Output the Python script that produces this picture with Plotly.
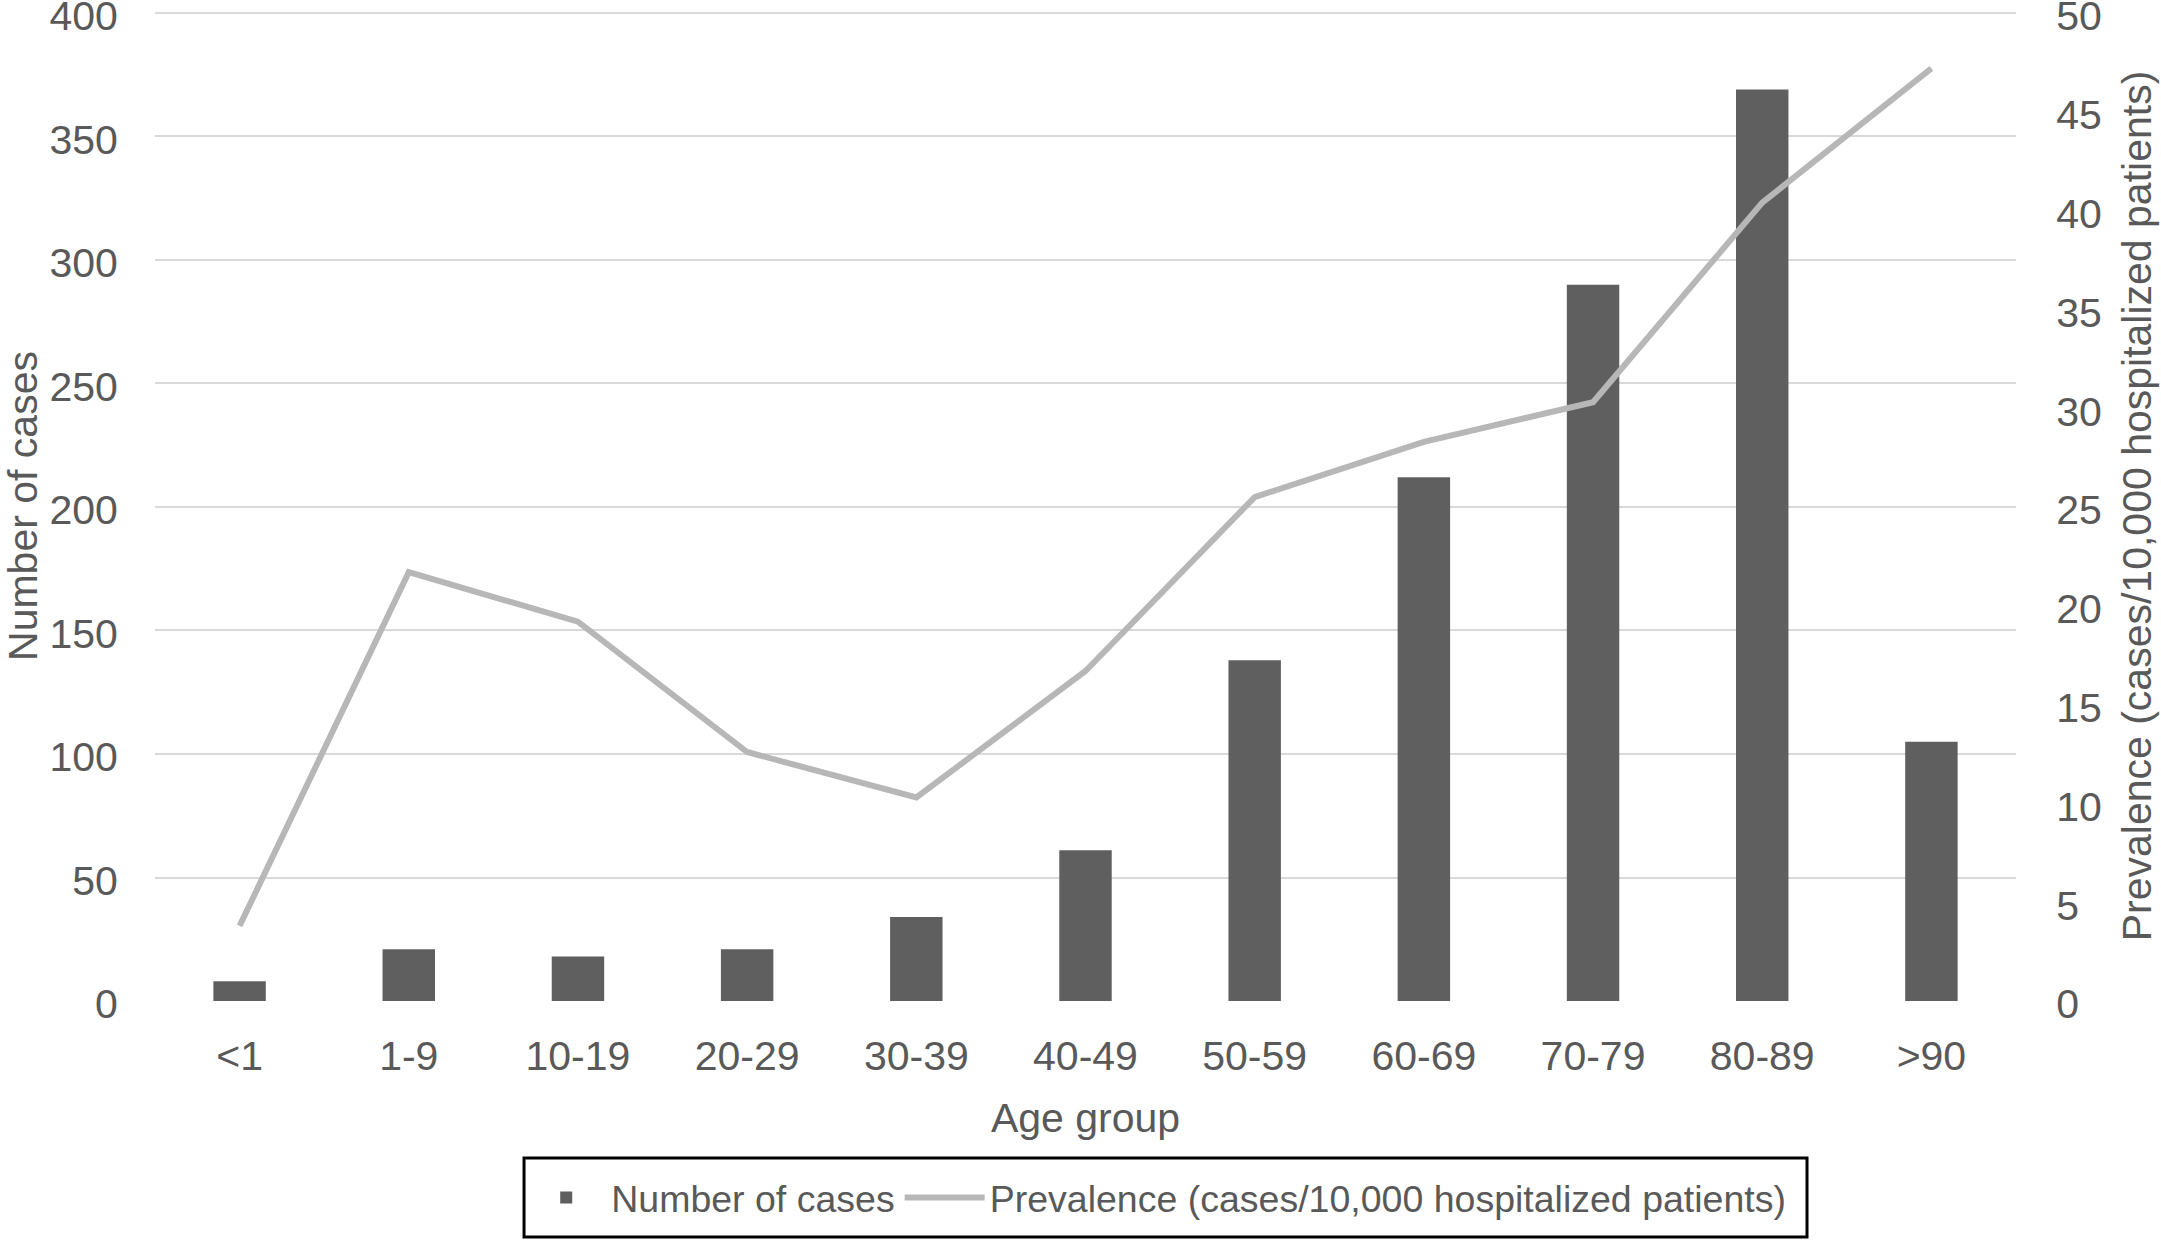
import plotly.graph_objects as go

age_groups = ["<1", "1-9", "10-19", "20-29", "30-39", "40-49", "50-59", "60-69", "70-79", "80-89", ">90"]
num_cases = [8, 21, 18, 21, 34, 61, 138, 212, 290, 369, 105]
prevalence = [3.8, 21.7, 19.2, 12.6, 10.3, 16.7, 25.5, 28.3, 30.3, 40.4, 47.2]

left_ticks = [0, 50, 100, 150, 200, 250, 300, 350, 400]
right_ticks = [0, 5, 10, 15, 20, 25, 30, 35, 40, 45, 50]

FONT = "Liberation Sans, Arial, sans-serif"
TXT = "#595959"

fig = go.Figure()
fig.add_trace(go.Bar(
    x=age_groups, y=num_cases, name="Number of cases",
    marker=dict(color="#5f5f5f", line=dict(width=0)), width=0.31,
))
fig.add_trace(go.Scatter(
    x=age_groups, y=prevalence, name="Prevalence (cases/10,000 hospitalized patients)",
    mode="lines", line=dict(color="#b7b7b7", width=6), yaxis="y2",
))

# legend frame
fig.add_shape(type="rect", xref="paper", yref="paper",
              x0=0.1983, x1=0.8877, y0=-0.2384, y1=-0.1586,
              line=dict(color="black", width=3), fillcolor="rgba(0,0,0,0)")

fig.update_layout(
    autosize=True,
    paper_bgcolor="white", plot_bgcolor="white",
    margin=dict(l=155, r=145, t=11, b=239),
    font=dict(family=FONT, size=41, color=TXT),
    showlegend=True,
    legend=dict(
        orientation="h", x=0.538, xanchor="center", y=-0.1985, yanchor="middle",
        borderwidth=0, bgcolor="rgba(0,0,0,0)", font=dict(size=37.5, color=TXT),
        itemwidth=80, traceorder="normal",
    ),
    xaxis=dict(
        type="category", range=[-0.5, 10.5], showgrid=False, zeroline=False,
        showline=False, ticks="outside", ticklen=19, tickcolor="rgba(0,0,0,0)",
        tickfont=dict(size=41, color=TXT), automargin=False,
        title=dict(text="Age group", font=dict(size=41, color=TXT), standoff=25),
    ),
    yaxis=dict(
        range=[0, 400.8], tickvals=left_ticks, showgrid=True, gridcolor="#d9d9d9",
        gridwidth=2, zeroline=False, showline=False,
        ticks="outside", ticklen=28, tickcolor="rgba(0,0,0,0)",
        tickfont=dict(size=41, color=TXT), automargin=False,
        ticklabeloverflow="allow", ticklabelshift=3,
        title=dict(text="Number of cases", font=dict(size=41, color=TXT), standoff=25),
    ),
    yaxis2=dict(
        range=[0, 50.1], tickvals=right_ticks, overlaying="y", side="right",
        showgrid=False, zeroline=False, showline=False,
        ticks="outside", ticklen=31, tickcolor="rgba(0,0,0,0)",
        tickfont=dict(size=41, color=TXT), automargin=False,
        ticklabeloverflow="allow", ticklabelshift=3,
        title=dict(text="Prevalence (cases/10,000 hospitalized patients)",
                   font=dict(size=41, color=TXT), standoff=21),
    ),
    bargap=0.69,
)

post = (
    "document.documentElement.style.margin='0';"
    "document.documentElement.style.height='100%';"
    "document.body.style.margin='0';"
    "document.body.style.height='100%';"
    "document.body.style.overflow='hidden';"
    "var gd=document.getElementById('{plot_id}');"
    "if(gd&&gd.parentElement){gd.parentElement.style.height='100%';gd.parentElement.style.width='100%';}"
    "Plotly.Plots.resize(gd);"
)

fig.write_html("out.html", post_script=post, config={"displayModeBar": False})
